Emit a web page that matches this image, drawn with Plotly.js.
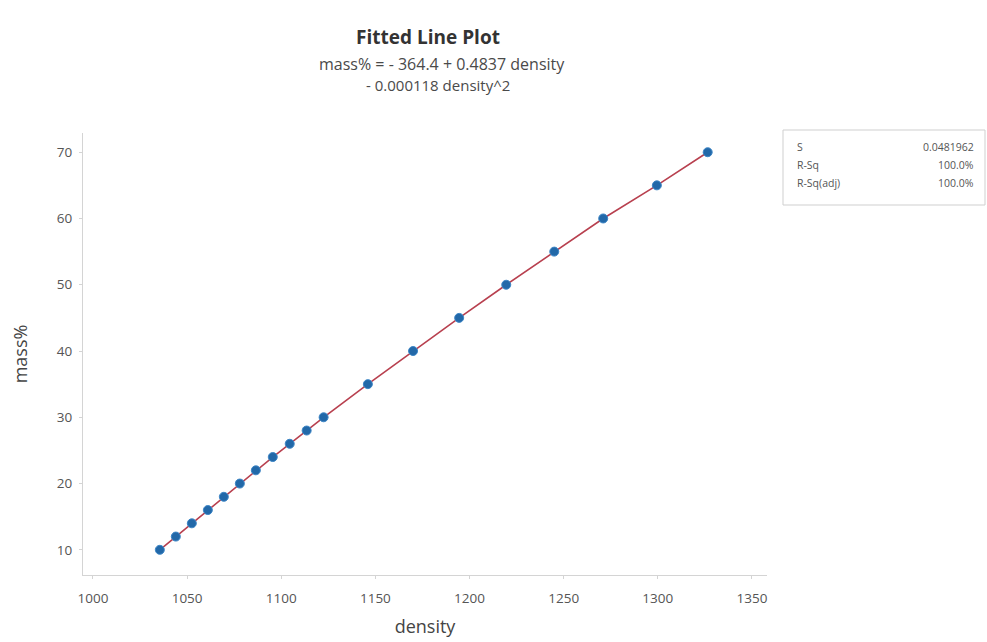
<!DOCTYPE html>
<html>
<head>
<meta charset="utf-8">
<script src="https://cdn.plot.ly/plotly-3.0.1.min.js"></script>
<style>html,body{margin:0;padding:0;background:#fff;}#chart{width:987px;height:642px;}</style>
</head>
<body>
<div id="chart"></div>
<script>
// Data
const density = [1035.5, 1044, 1052.5, 1061, 1069.5, 1078, 1086.5, 1095.5, 1104.5, 1113.5, 1122.5,
                 1146, 1170, 1194.5, 1219.5, 1245, 1271, 1299.5, 1326.5];
const massPct = [10, 12, 14, 16, 18, 20, 22, 24, 26, 28, 30, 35, 40, 45, 50, 55, 60, 65, 70];
const xTicks = [1000, 1050, 1100, 1150, 1200, 1250, 1300, 1350];
const yTicks = [10, 20, 30, 40, 50, 60, 70];
const statLabels = ["S", "R-Sq", "R-Sq(adj)"];
const statValues = ["0.0481962", "100.0%", "100.0%"];
const titleText = "Fitted Line Plot";
const eqLine1 = "mass% = - 364.4 + 0.4837 density";
const eqLine2 = "- 0.000118 density^2";

const FONT = "Open Sans, Noto Sans, sans-serif";
const L = 83, R = 767, T = 133, B = 575;
const px = v => (v - L) / (R - L);
const py = v => (B - v) / (B - T);

const traces = [
  {x: density, y: massPct, type: "scatter", mode: "lines",
   line: {color: "#b8404f", width: 1.6}, hoverinfo: "skip", showlegend: false},
  {x: density, y: massPct, type: "scatter", mode: "markers",
   marker: {color: "#2268a8", size: 9, line: {color: "#3d86c6", width: 1}}, showlegend: false}
];

const rowY = [147, 165, 183];
const annotations = [
  {text: eqLine1, xref: "paper", yref: "paper", x: px(442), y: py(64), xanchor: "center", yanchor: "middle",
   showarrow: false, font: {family: FONT, size: 16, color: "#4a4a4a"}},
  {text: eqLine2, xref: "paper", yref: "paper", x: px(438), y: py(85), xanchor: "center", yanchor: "middle",
   showarrow: false, font: {family: FONT, size: 15, color: "#4a4a4a"}}
];
statLabels.forEach((s, i) => {
  annotations.push({text: s, xref: "paper", yref: "paper", x: px(795), y: py(rowY[i]), xanchor: "left", yanchor: "middle",
    showarrow: false, font: {family: FONT, size: 10.5, color: "#555"}});
  annotations.push({text: statValues[i], xref: "paper", yref: "paper", x: px(976), y: py(rowY[i]), xanchor: "right", yanchor: "middle",
    showarrow: false, font: {family: FONT, size: 10.5, color: "#555"}});
});

const layout = {
  width: 987, height: 642,
  paper_bgcolor: "#fff", plot_bgcolor: "#fff",
  margin: {l: L, r: 987 - R, t: T, b: 642 - B},
  font: {family: FONT, color: "#555"},
  title: {text: "<b>" + titleText + "</b>", x: px(428), xref: "paper", xanchor: "center", y: 1 - 37/642, yanchor: "middle",
          font: {family: FONT, size: 19, color: "#333"}},
  xaxis: {range: [994.7, 1358], tickvals: xTicks, ticktext: xTicks.map(String),
          showgrid: false, zeroline: false, showline: true, linecolor: "#d4d4d4", linewidth: 1,
          ticks: "outside", ticklen: 3, tickcolor: "#d4d4d4", ticklabelstandoff: 8,
          tickfont: {family: FONT, size: 13.5, color: "#555"},
          title: {text: "density", standoff: 14, font: {family: FONT, size: 18, color: "#444"}}},
  yaxis: {range: [6.2, 72.9], tickvals: yTicks, ticktext: yTicks.map(String),
          showgrid: false, zeroline: false, showline: true, linecolor: "#d4d4d4", linewidth: 1,
          ticks: "outside", ticklen: 3, tickcolor: "#d4d4d4", ticklabelstandoff: 4,
          tickfont: {family: FONT, size: 13.5, color: "#555"},
          title: {text: "mass%", standoff: 24, font: {family: FONT, size: 18, color: "#444"}}},
  shapes: [{type: "rect", xref: "paper", yref: "paper", x0: px(783), x1: px(985),
            y0: py(205), y1: py(130), line: {color: "#cfcfcf", width: 1}, fillcolor: "rgba(0,0,0,0)"}],
  annotations: annotations
};

Plotly.newPlot("chart", traces, layout, {displayModeBar: false, staticPlot: true});
</script>
</body>
</html>
